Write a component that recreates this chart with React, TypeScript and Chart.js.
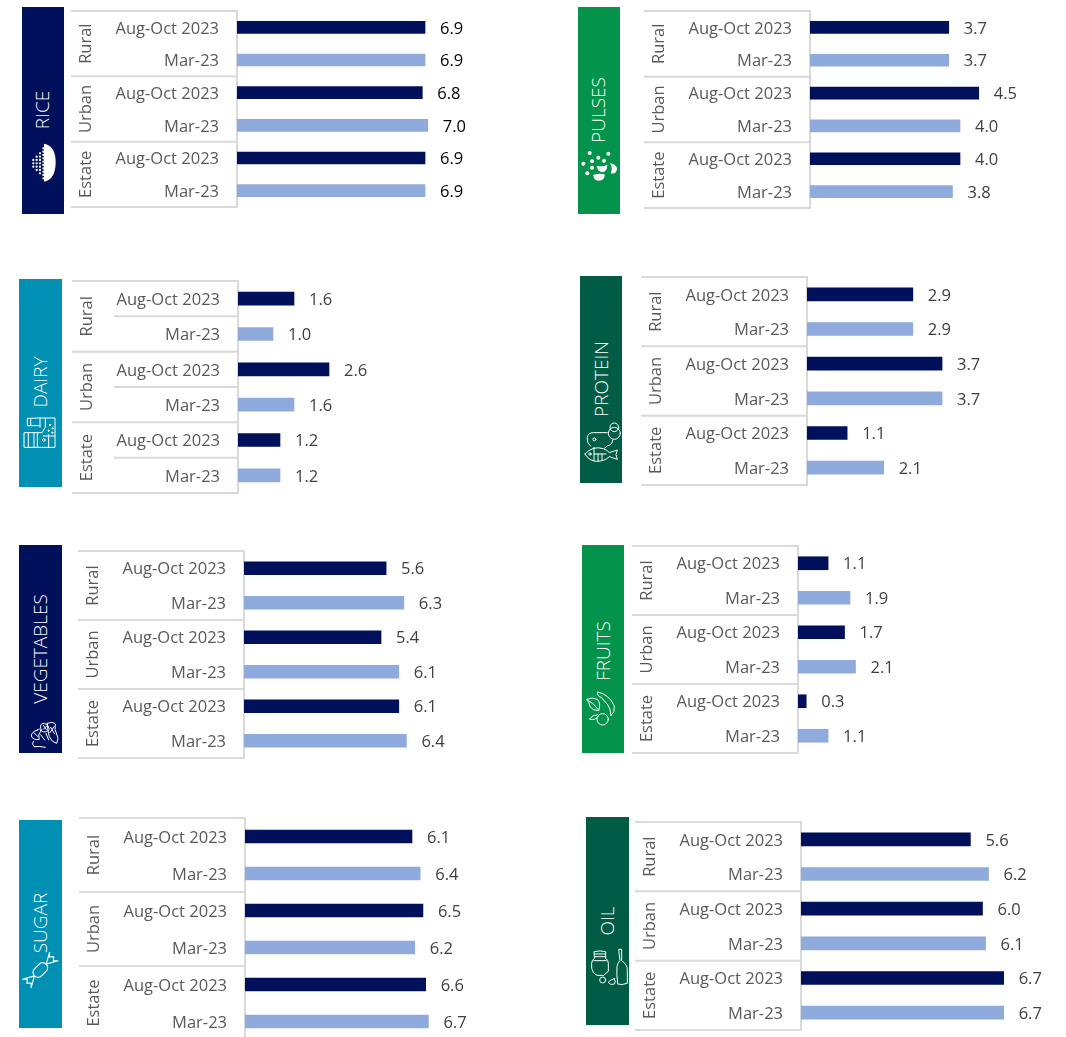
import React, { useEffect, useRef } from "react";
import { Chart, registerables } from "chart.js";

Chart.register(...registerables);

const periodLabels = ["Aug-Oct 2023", "Mar-23", "Aug-Oct 2023", "Mar-23", "Aug-Oct 2023", "Mar-23"];
const sectorLabels = ["Rural", "Urban", "Estate"];

const riceValues = [6.9, 6.9, 6.8, 7.0, 6.9, 6.9];
const pulsesValues = [3.7, 3.7, 4.5, 4.0, 4.0, 3.8];
const dairyValues = [1.6, 1.0, 2.6, 1.6, 1.2, 1.2];
const proteinValues = [2.9, 2.9, 3.7, 3.7, 1.1, 2.1];
const vegetablesValues = [5.6, 6.3, 5.4, 6.1, 6.1, 6.4];
const fruitsValues = [1.1, 1.9, 1.7, 2.1, 0.3, 1.1];
const sugarValues = [6.1, 6.4, 6.5, 6.2, 6.6, 6.7];
const oilValues = [5.6, 6.2, 6.0, 6.1, 6.7, 6.7];

const NAVY = "#00105A";
const GREEN = "#03934B";
const TEAL = "#0090B4";
const FOREST = "#005C44";
const LIGHT_BAR = "#8FAADC";
const RULE = "#D9D9D9";
const TICK_TEXT = "#595959";
const FONT = '"Open Sans", sans-serif';
const X_MAX = 8;

type Panel = {
  name: string;
  values: number[];
  color: string;
  banner: [number, number, number, number];
  labelCenter: [number, number];
  axisLeft: number;
  axisTop: number;
  axisBottom: number;
  plotWidth: number;
  barHeight: number;
  valueColor: string;
  innerRules?: boolean;
  icon: React.ReactNode;
};

// Small line-art pictograms, each in a 3x grid over its own page region.
const IconFrame = ({ x, y, w, h, children }: any) => (
  <svg
    width={w}
    height={h}
    viewBox={`0 0 ${w * 3} ${h * 3}`}
    style={{ position: "absolute", left: x, top: y, overflow: "visible" }}
    fill="none"
    stroke="#fff"
    strokeWidth={3}
    strokeLinejoin="round"
    strokeLinecap="round"
  >
    {children}
  </svg>
);

const riceDots: [number, number, number][] = [
  [100, 480, 500],
  [110, 470, 510],
  [120, 460, 520],
  [130, 445, 535],
];

const RiceIcon = () => (
  <IconFrame x={0} y={0} w={100} h={200}>
    <path d="M132 431 Q168 438 167 490 Q165 540 132 545 Z" fill="#fff" stroke="none" />
    {riceDots.flatMap(([cx, from, to]) => {
      const cells = [];
      for (let cy = from; cy <= to; cy += 10) cells.push(<circle key={`${cx}-${cy}`} cx={cx} cy={cy} r={3.4} fill="#fff" stroke="none" />);
      return cells;
    })}
  </IconFrame>
);

const pulseSeeds: [number, number][] = [
  [59, 69], [85, 83], [115, 71], [40, 101], [66, 94], [102, 92], [66, 113], [52, 130],
];

const PulsesIcon = () => (
  <IconFrame x={570} y={130} w={60} h={70}>
    {pulseSeeds.map(([cx, cy]) => (
      <circle key={`${cx}-${cy}`} cx={cx} cy={cy} r={6} fill="#fff" stroke="none" />
    ))}
    <path d="M70 135 Q85 128 104 133 Q105 152 86 152 Q70 152 70 135 Z" fill="#fff" stroke="none" />
    <path d="M120 100 Q142 104 141 118 Q138 134 122 130 Q130 116 120 100 Z" fill="#fff" stroke="none" />
    <path d="M80 107 Q98 112 112 104 Q112 126 96 126 Q82 124 80 107 Z" fill="#fff" stroke="none" />
  </IconFrame>
);

const DairyIcon = () => (
  <IconFrame x={10} y={400} w={60} h={60}>
    <path d="M52 55 H62 L85 54 H135 V142 H42 V98 H96 L106 82 V54" />
    <path d="M52 55 V77 H62 V55 M62 77 H90 M90 54 V82" />
    <path d="M55 98 V142 M72 98 V142 M82 98 V142 M116 104 V142 M100 108 H135" />
    <circle cx={101} cy={120} r={4} />
    <circle cx={120} cy={75} r={2} fill="#fff" />
    <circle cx={128} cy={85} r={2} fill="#fff" />
    <circle cx={116} cy={92} r={2} fill="#fff" />
    <circle cx={127} cy={98} r={2} fill="#fff" />
  </IconFrame>
);

const ProteinIcon = () => (
  <IconFrame x={570} y={410} w={60} h={60}>
    <path d="M62 108 Q50 100 52 82 Q54 68 70 68 H112" />
    <circle cx={133} cy={52} r={13} />
    <circle cx={133} cy={70} r={18} />
    <path d="M128 90 Q128 104 112 108 L104 114" />
    <circle cx={73} cy={88} r={4.5} />
    <path d="M45 132 Q68 106 100 116 Q112 120 118 128 L142 120 Q134 134 142 148 L118 140 Q104 154 80 154 Q58 154 45 132 Z" />
    <circle cx={60} cy={132} r={3.5} />
    <path d="M72 112 V152 M72 132 H108 M84 132 V152 M96 132 V150" />
  </IconFrame>
);

const VegetablesIcon = () => (
  <IconFrame x={10} y={690} w={60} h={70}>
    <path d="M82 120 Q64 126 64 138 Q70 152 88 148 Q82 134 92 124 Q92 112 82 120 Z M72 128 L84 140" />
    <path d="M92 114 Q88 100 104 100 Q116 104 118 118 Q108 130 96 124 Z M100 106 L110 120 M112 106 L100 118" />
    <path d="M112 100 Q130 94 136 102 Q132 120 140 132 Q148 146 140 160 Q126 158 118 140 Q112 118 112 100 Z M122 112 L134 132 M132 110 L120 128" />
    <path d="M70 154 Q64 162 72 170 Q90 168 106 172 M92 134 L104 150 M108 130 L116 150" />
  </IconFrame>
);

const FruitsIcon = () => (
  <IconFrame x={570} y={680} w={60} h={60}>
    <path d="M84 36 Q118 44 133 78 Q136 96 122 108 Q124 84 106 66 Q94 50 84 46 Z" />
    <path d="M50 58 Q66 50 82 58 Q94 70 86 92 Q68 92 60 80 Q58 66 50 58 Z M56 62 Q72 70 84 88" />
    <circle cx={98} cy={118} r={17} />
    <path d="M82 104 Q68 104 58 118 Q74 122 84 112" />
  </IconFrame>
);

const SugarIcon = () => (
  <IconFrame x={10} y={940} w={60} h={60}>
    <g transform="rotate(-45 91 90)" strokeWidth={3.4}>
      <rect x={66} y={75} width={50} height={30} rx={15} />
      <path d="M66 90 L34 72 L44 82 L34 90 L44 98 L34 108 Z" />
      <path d="M116 90 L148 72 L138 82 L148 90 L138 98 L148 108 Z" />
    </g>
  </IconFrame>
);

const OilIcon = () => (
  <IconFrame x={575} y={930} w={60} h={60}>
    <path d="M58 65 Q75 60 92 65 V85 Q100 90 100 100 V124 L86 136 H66 Q52 130 50 115 V100 Q50 90 58 85 Z" />
    <path d="M58 72 H92 M58 80 H92 M56 92 H94" />
    <circle cx={83} cy={150} r={9} />
    <path d="M132 58 H140 V92 Q158 104 157 122 V160 Q140 166 128 162 Q124 130 126 110 Q128 98 134 92 Z" />
    <path d="M118 146 Q124 156 118 162 Q104 166 100 156 Q106 150 118 146 Z" />
  </IconFrame>
);

const panels: Panel[] = [
  { name: "RICE", values: riceValues, color: NAVY, banner: [22, 7, 42, 207], labelCenter: [42, 110], axisLeft: 71, axisTop: 11, axisBottom: 207, plotWidth: 218, barHeight: 12, valueColor: "#000000", icon: <RiceIcon /> },
  { name: "PULSES", values: pulsesValues, color: GREEN, banner: [578, 7, 42, 207], labelCenter: [598, 110], axisLeft: 644, axisTop: 11, axisBottom: 208, plotWidth: 300, barHeight: 12, valueColor: "#404040", icon: <PulsesIcon /> },
  { name: "DAIRY", values: dairyValues, color: TEAL, banner: [19, 279, 43, 208], labelCenter: [40, 382], axisLeft: 72, axisTop: 281, axisBottom: 493, plotWidth: 280, barHeight: 13, valueColor: "#404040", innerRules: true, icon: <DairyIcon /> },
  { name: "PROTEIN", values: proteinValues, color: FOREST, banner: [580, 276, 42, 207], labelCenter: [601, 379], axisLeft: 641, axisTop: 277, axisBottom: 485, plotWidth: 292, barHeight: 13, valueColor: "#404040", icon: <ProteinIcon /> },
  { name: "VEGETABLES", values: vegetablesValues, color: NAVY, banner: [19, 545, 43, 208], labelCenter: [40, 649], axisLeft: 78, axisTop: 551, axisBottom: 758, plotWidth: 203, barHeight: 13, valueColor: "#404040", icon: <VegetablesIcon /> },
  { name: "FRUITS", values: fruitsValues, color: GREEN, banner: [582, 545, 42, 208], labelCenter: [603, 651], axisLeft: 632, axisTop: 546, axisBottom: 753, plotWidth: 219, barHeight: 13, valueColor: "#404040", icon: <FruitsIcon /> },
  { name: "SUGAR", values: sugarValues, color: TEAL, banner: [19, 820, 43, 208], labelCenter: [40, 923], axisLeft: 79, axisTop: 818, axisBottom: 1040, plotWidth: 219, barHeight: 13, valueColor: "#404040", icon: <SugarIcon /> },
  { name: "OIL", values: oilValues, color: FOREST, banner: [586, 817, 43, 208], labelCenter: [607, 921], axisLeft: 635, axisTop: 822, axisBottom: 1030, plotWidth: 242, barHeight: 13, valueColor: "#404040", icon: <OilIcon /> },
];

const AXIS_BOX = 166;
const CANVAS_PAD = 3;
const VALUE_ROOM = 70;

// Draws the sector rules and rotated sector names across the label column,
// and prints each bar's value just past its end.
const panelDecor = {
  id: "panelDecor",
  afterDatasetsDraw(chart: any, _args: any, opts: any) {
    const { ctx } = chart;
    const y = chart.scales.y;
    const axisRight = chart.chartArea.left;
    const axisLeft = axisRight - AXIS_BOX;
    const groupH = (y.bottom - y.top) / 3;
    ctx.save();
    ctx.strokeStyle = RULE;
    ctx.lineWidth = 2;
    for (let i = 0; i <= 3; i++) {
      const py = y.top + groupH * i;
      ctx.beginPath();
      ctx.moveTo(axisLeft, py);
      ctx.lineTo(axisRight, py);
      ctx.stroke();
    }
    if (opts.innerRules) {
      for (let i = 0; i < 3; i++) {
        const py = y.top + groupH * (i + 0.5);
        ctx.beginPath();
        ctx.moveTo(axisLeft + 42, py);
        ctx.lineTo(axisRight, py);
        ctx.stroke();
      }
    }
    ctx.fillStyle = TICK_TEXT;
    ctx.font = `16.5px ${FONT}`;
    ctx.textAlign = "center";
    ctx.textBaseline = "middle";
    sectorLabels.forEach((label, i) => {
      ctx.save();
      ctx.translate(axisLeft + 15.5, y.top + groupH * (i + 0.5));
      ctx.rotate(-Math.PI / 2);
      ctx.fillText(label, 0, 0);
      ctx.restore();
    });
    ctx.fillStyle = opts.valueColor;
    ctx.font = `16.5px ${FONT}`;
    ctx.textAlign = "left";
    chart.getDatasetMeta(0).data.forEach((bar: any, i: number) => {
      ctx.fillText(chart.data.datasets[0].data[i].toFixed(1), bar.x + 15, bar.y + 1.5);
    });
    ctx.restore();
  },
};

function PanelChart({ panel }: { panel: Panel }) {
  const ref = useRef<HTMLCanvasElement | null>(null);
  const labelWidth = AXIS_BOX + CANVAS_PAD;
  useEffect(() => {
    const chart = new Chart(ref.current as HTMLCanvasElement, {
      type: "bar",
      data: {
        labels: periodLabels,
        datasets: [
          {
            data: panel.values,
            backgroundColor: (c: any) => (c.dataIndex % 2 === 0 ? NAVY : LIGHT_BAR),
            barThickness: panel.barHeight,
          },
        ],
      },
      options: {
        indexAxis: "y",
        responsive: false,
        animation: false,
        layout: {
          autoPadding: false,
          padding: { top: CANVAS_PAD, bottom: CANVAS_PAD, right: VALUE_ROOM, left: 0 },
        },
        plugins: {
          legend: { display: false },
          tooltip: { enabled: false },
          panelDecor: { innerRules: !!panel.innerRules, valueColor: panel.valueColor },
        } as any,
        scales: {
          x: { display: false, min: 0, max: X_MAX },
          y: {
            afterFit(scale: any) {
              scale.width = labelWidth;
              scale.paddingTop = 0;
              scale.paddingBottom = 0;
            },
            // The invisible tick mark sets the gap between labels and axis line.
            grid: { display: true, drawOnChartArea: false, drawTicks: true, tickLength: 18, tickColor: "transparent" },
            border: { display: true, color: RULE, width: 2 },
            ticks: {
              autoSkip: false,
              padding: 0,
              labelOffset: 1.5,
              color: TICK_TEXT,
              font: { family: FONT, size: 16.5 },
            },
          },
        },
      },
      plugins: [panelDecor],
    } as any);
    return () => chart.destroy();
  }, [panel, labelWidth]);
  const width = labelWidth + panel.plotWidth + VALUE_ROOM;
  const height = panel.axisBottom - panel.axisTop + CANVAS_PAD * 2;
  return (
    <canvas
      ref={ref}
      width={width}
      height={height}
      style={{ position: "absolute", left: panel.axisLeft - CANVAS_PAD, top: panel.axisTop - CANVAS_PAD }}
    />
  );
}

function Banner({ panel }: { panel: Panel }) {
  const [x, y, w, h] = panel.banner;
  return (
    <>
      <div style={{ position: "absolute", left: x, top: y, width: w, height: h, background: panel.color }} />
      <div
        style={{
          position: "absolute",
          left: panel.labelCenter[0],
          top: panel.labelCenter[1],
          transform: "translate(-50%, -50%) rotate(-90deg)",
          color: "#fff",
          fontFamily: FONT,
          fontWeight: 300,
          fontSize: 19,
          whiteSpace: "nowrap",
          lineHeight: 1,
        }}
      >
        {panel.name}
      </div>
      {panel.icon}
    </>
  );
}

export default function App() {
  return (
    <div style={{ position: "absolute", left: 0, top: 0, width: 1066, height: 1037, overflow: "hidden", background: "#fff" }}>
      {panels.map((p) => (
        <Banner key={`b-${p.name}`} panel={p} />
      ))}
      {panels.map((p) => (
        <PanelChart key={p.name} panel={p} />
      ))}
    </div>
  );
}
